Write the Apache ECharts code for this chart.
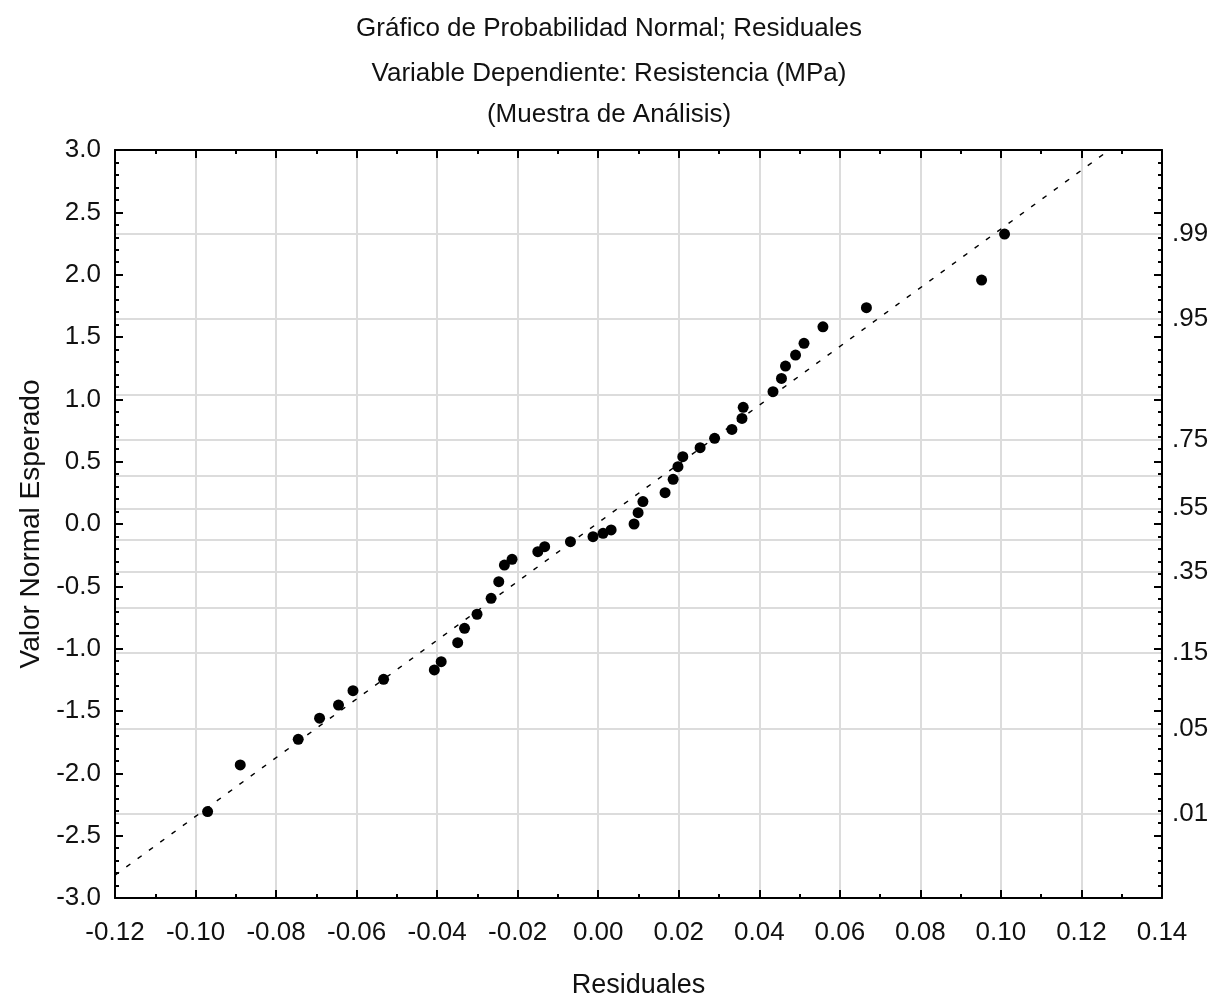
<!DOCTYPE html>
<html>
<head>
<meta charset="utf-8">
<script src="https://cdn.jsdelivr.net/npm/echarts@6/dist/echarts.min.js"></script>
<style>html,body{margin:0;padding:0;background:#fff;}#c{width:1218px;height:1000px;}</style>
</head>
<body>
<div id="c"></div>
<script>
// Residuals (x) and expected normal values (y)
const residuales = [-0.0970, -0.0889, -0.0745, -0.0692, -0.0645, -0.0609, -0.0533, -0.0407, -0.0390, -0.0349,
  -0.0332, -0.0301, -0.0266, -0.0247, -0.0233, -0.0214, -0.0150, -0.0133, -0.0069, -0.0013,
  0.0012, 0.0032, 0.0089, 0.0099, 0.0111, 0.0166, 0.0186, 0.0198, 0.0210, 0.0253,
  0.0289, 0.0332, 0.0357, 0.0360, 0.0434, 0.0455, 0.0465, 0.0490, 0.0511, 0.0558,
  0.0666, 0.0952, 0.1009];
const valorNormal = [-2.307, -1.933, -1.727, -1.558, -1.452, -1.337, -1.246, -1.171, -1.104, -0.952,
  -0.837, -0.724, -0.596, -0.463, -0.329, -0.283, -0.222, -0.182, -0.142, -0.102,
  -0.075, -0.048, 0.000, 0.091, 0.180, 0.251, 0.358, 0.460, 0.540, 0.612,
  0.687, 0.759, 0.847, 0.936, 1.061, 1.168, 1.267, 1.355, 1.449, 1.582,
  1.735, 1.957, 2.326];
// Reference line end points
const lineX = [-0.12, 0.1269];
const lineY = [-2.817, 3.0];
// Right-axis probability labels and their normal-score positions
const probLabels = ['.01', '.05', '.15', '.35', '.55', '.75', '.95', '.99'];
const probZ = [-2.326, -1.645, -1.036, -0.385, 0.126, 0.674, 1.645, 2.326];
// Horizontal grid lines (probabilities .01,.05,.15,...,.95,.99)
const gridZ = [-2.326, -1.645, -1.036, -0.674, -0.385, -0.126, 0.126, 0.385, 0.674, 1.036, 1.645, 2.326];
const titles = ['Gráfico de Probabilidad Normal; Residuales', 'Variable Dependiente: Resistencia (MPa)', '(Muestra de Análisis)'];
const xAxisName = 'Residuales';
const yAxisName = 'Valor Normal Esperado';

const FONT = 'Liberation Sans, Arial, sans-serif';
const TXT = '#111';
const scatterData = residuales.map((v, i) => [v, valorNormal[i]]);
const lineData = lineX.map((v, i) => [v, lineY[i]]);

const axisLineStyle = { show: true, onZero: false, lineStyle: { color: '#000', width: 2 } };
const tickStyle = { show: true, inside: true, length: 8, lineStyle: { color: '#000', width: 2 } };
const chart = echarts.init(document.getElementById('c'), null, { renderer: 'canvas' });
chart.setOption({
  animation: false,
  backgroundColor: '#fff',
  title: titles.map((t, i) => ({
    text: t, left: 'center', top: [11, 56, 97][i],
    textStyle: { fontFamily: FONT, fontSize: 26, fontWeight: 'normal', color: TXT }
  })),
  grid: { left: 115, right: 56, top: 150, bottom: 102, containLabel: false, outerBoundsMode: 'none' },
  xAxis: [{
    type: 'value', min: -0.12, max: 0.14, interval: 0.02, position: 'bottom',
    name: xAxisName, nameLocation: 'middle', nameGap: 74,
    nameTextStyle: { fontFamily: FONT, fontSize: 27, color: TXT },
    axisLine: axisLineStyle,
    axisTick: tickStyle,
    minorTick: { show: true, splitNumber: 2, length: 4, lineStyle: { color: '#000', width: 2 } },
    axisLabel: { fontFamily: FONT, fontSize: 26, color: TXT, margin: 22, formatter: v => v.toFixed(2) },
    splitLine: { show: true, lineStyle: { color: '#dcdcdc', width: 2 } }
  }, {
    type: 'value', min: -0.12, max: 0.14, interval: 0.02, position: 'top',
    axisLine: axisLineStyle,
    axisTick: tickStyle,
    minorTick: { show: true, splitNumber: 2, length: 4, lineStyle: { color: '#000', width: 2 } },
    axisLabel: { show: false }, splitLine: { show: false }
  }],
  yAxis: [{
    type: 'value', min: -3, max: 3, interval: 0.5, position: 'left',
    name: yAxisName, nameLocation: 'middle', nameGap: 70,
    nameTextStyle: { fontFamily: FONT, fontSize: 28, color: TXT },
    axisLine: axisLineStyle,
    axisTick: tickStyle,
    minorTick: { show: true, splitNumber: 5, length: 4, lineStyle: { color: '#000', width: 2 } },
    axisLabel: { fontFamily: FONT, fontSize: 26, color: TXT, margin: 14, formatter: v => v.toFixed(1) },
    splitLine: { show: false }
  }, {
    type: 'value', min: -3, max: 3, interval: 0.5, position: 'right',
    axisLine: axisLineStyle,
    axisTick: tickStyle,
    minorTick: { show: true, splitNumber: 5, length: 4, lineStyle: { color: '#000', width: 2 } },
    axisLabel: {
      fontFamily: FONT, fontSize: 26, color: TXT, margin: 10,
      customValues: probZ,
      formatter: v => { const i = probZ.indexOf(v); return i >= 0 ? probLabels[i] : ''; }
    },
    splitLine: { show: false }
  }, {
    type: 'value', min: -3, max: 3, position: 'right', offset: 0,
    axisLine: { show: false, onZero: false },
    axisTick: { show: false, customValues: gridZ },
    axisLabel: { show: false, customValues: gridZ },
    splitLine: { show: true, lineStyle: { color: '#dcdcdc', width: 2 } }
  }],
  series: [{
    type: 'line', data: lineData, xAxisIndex: 0, yAxisIndex: 0,
    symbol: 'none', silent: true, z: 3,
    lineStyle: { color: '#000', width: 1.5, type: [5, 9] }
  }, {
    type: 'scatter', data: scatterData, xAxisIndex: 0, yAxisIndex: 0,
    symbol: 'circle', symbolSize: 11, z: 4,
    itemStyle: { color: '#000', opacity: 1 }
  }]
});
</script>
</body>
</html>
